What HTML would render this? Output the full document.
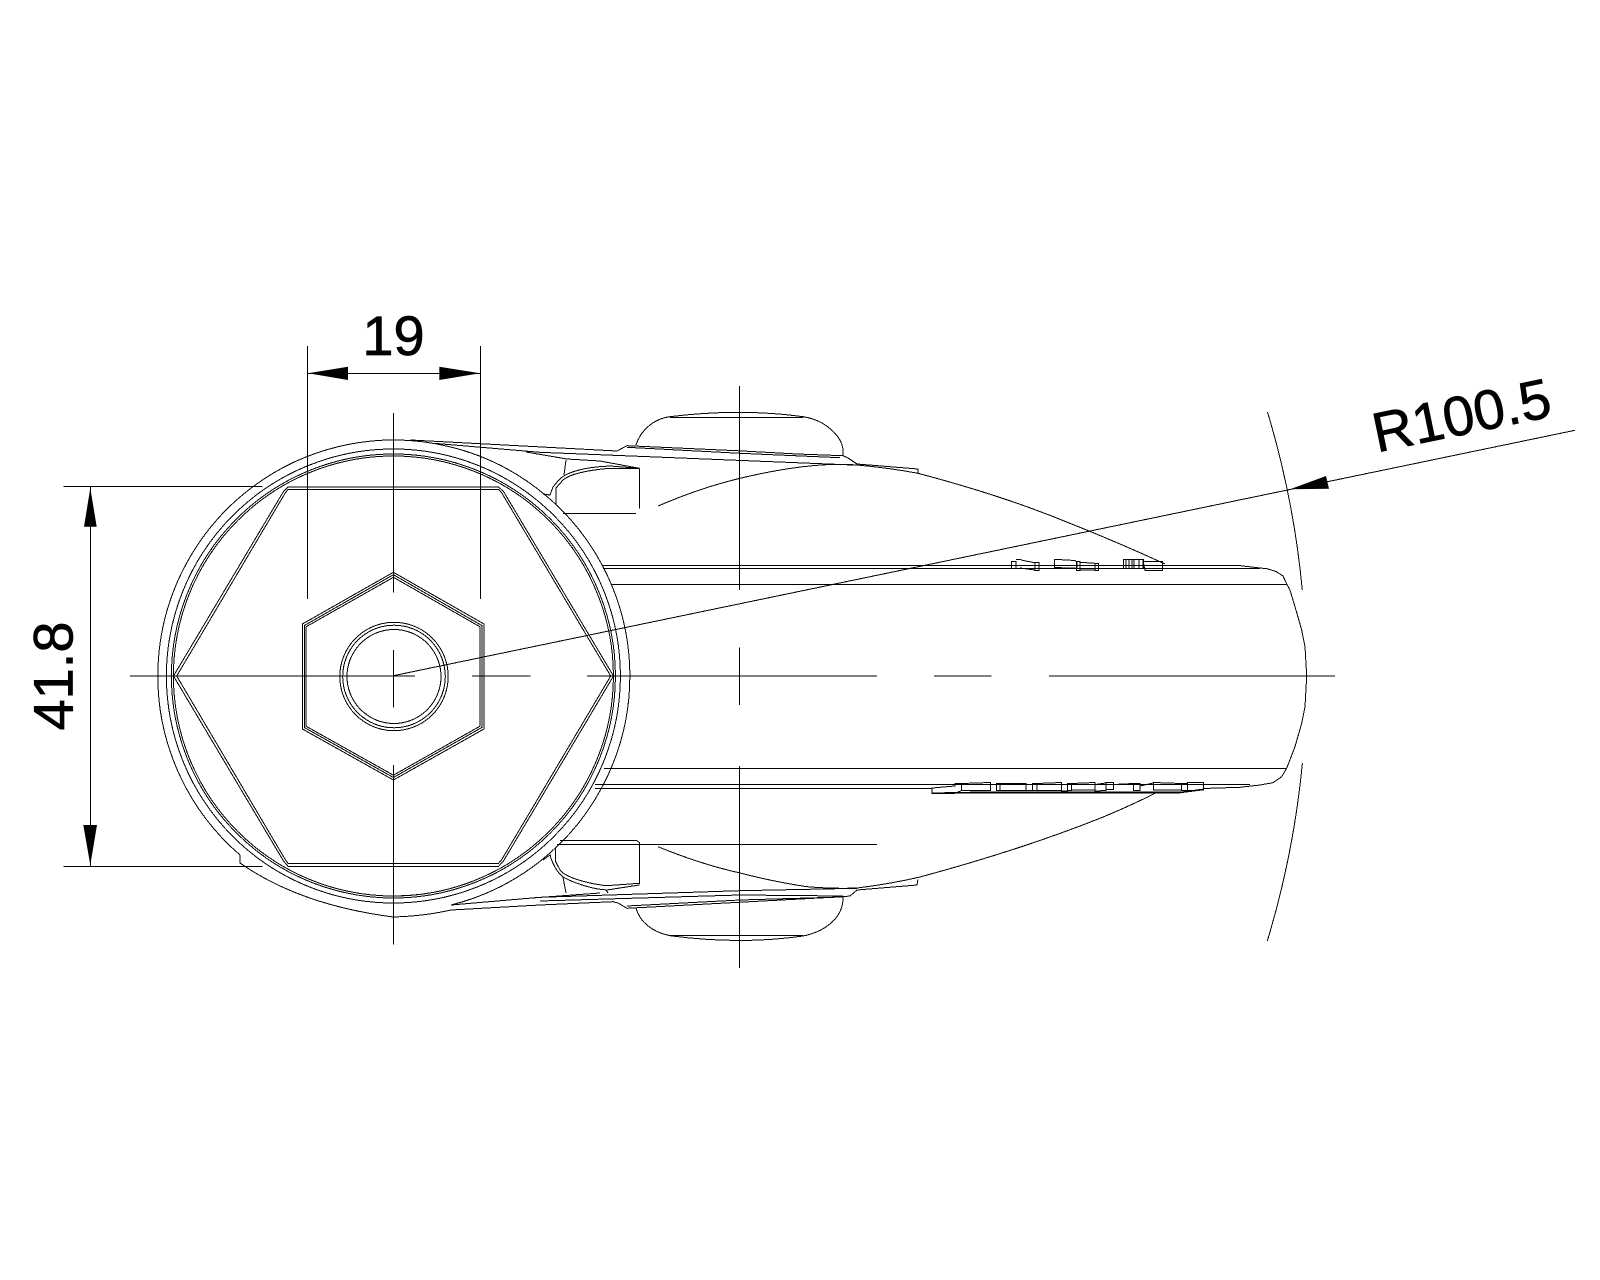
<!DOCTYPE html>
<html>
<head>
<meta charset="utf-8">
<style>
html,body{margin:0;padding:0;background:#fff;width:1600px;height:1280px;overflow:hidden}
svg{display:block}
text{font-family:"Liberation Sans",Arial,sans-serif;font-size:56px;fill:#000;stroke:#000;stroke-width:.7px}
.l{fill:none;stroke:#000;stroke-width:1;shape-rendering:crispEdges}
.m{fill:none;stroke:#000;stroke-width:1;shape-rendering:crispEdges}
</style>
</head>
<body>
<svg xmlns="http://www.w3.org/2000/svg" width="1600" height="1280" viewBox="0 0 1600 1280">
<rect width="1600" height="1280" fill="#fff"/>

<!-- centre lines -->
<g class="m">
<path d="M130 676H415M472 676H530.5M587 676H877M934 676H991.7M1049 676H1335"/>
<path d="M393.4 413V592.7M393.4 650V707.7M393.4 765V944.5"/>
<path d="M739.3 386V590M739.3 647.5V705M739.3 766V968"/>
</g>

<!-- circles -->
<g class="l">
<path d="M240 855A236 236 0 1 1 451 905"/>
<path d="M240 855V863Q300 905 393.4 917Q425 916 451 910"/>
<circle cx="393.4" cy="676" r="227"/>
<circle cx="393.4" cy="676" r="222"/>
<circle cx="393.4" cy="676" r="220"/>
<!-- large hexagon -->
<path d="M173.5 676L283.5 491.5L288 487H498.5L503.5 491.5L613.5 676L503.5 861L498.5 866.3H288L283.5 861Z"/>
<path d="M176.7 676L285.5 492.5L288 489.5H498.5L501.5 492.5L610.7 676L501.5 860L498.5 863.3H288L285.5 860Z"/>
<!-- small hexagon -->
<path d="M393.4 572.3L484 624V729L393.4 780L302.4 729V624Z"/>
<path d="M393.4 574.7L481.8 625.5V727.5L393.4 777.5L304.4 727.5V625.5Z"/>
<path d="M393.4 577.3L480 626.8V726.2L393.4 775.2L306 726.2V626.8Z"/>
<circle cx="394" cy="676.5" r="54.2"/>
<circle cx="394" cy="676.5" r="51.3"/>
<circle cx="394" cy="676.5" r="47"/>
</g>

<!-- body -->
<g class="l">
<path d="M602 565.3H1237L1260 568L1267 568.7L1276 571.5L1283 576L1286.7 584L1290 590L1295 606.7L1301.7 630L1305 646.7L1306.7 676L1305 706.7L1301.7 723.3L1295 746.7L1286.7 768.3L1281.7 776.7L1273 782.7L1260 785L1240 787.3"/>
<path d="M603 568.3H1260"/>
<path d="M611.7 584.3H1287"/>
<path d="M604 768.3H1287"/>
<path d="M595 784.3H1250"/>
<path d="M595 788.3H932"/>
<path d="M1203 788.5L1240 787.3"/>
</g>

<!-- upper wheel and lines -->
<g class="l">
<path d="M636 445C640 432 652 419 670 416.7Q740 408 803 416.7C825 420 842 436 843 450V455.7"/>
<path d="M670 417.3H803"/>
<path d="M410.6 440L617 451L627 445.7L737 450.7L797 454L843 455.7L848 458L857 464L918 469V473"/>
<path d="M627 447.3L740 453.3L840 457.7"/>
<path d="M434 443.3L540 452.3L853 465"/>
<path d="M526 452L567 459L600 461L627 466L639.5 468.3"/>
<path d="M566 460L564 475"/>
<path d="M639.5 468.3V508.5"/>
<path d="M639.5 468.3L610 466C585 467 565 472 558 481L553 487L550 495L543 494"/>
<path d="M639.5 468.3H610C588 470 570 474 563 480L556 488V504"/>
<path d="M563 513.5H636"/>
<path d="M658 506Q700 488 740 478.3Q775 470 803 466.7Q835 463 857 465Q890 468 918 473.3Q1000 495 1061.7 520Q1115 541 1165 564"/>
</g>

<!-- lower wheel and lines -->
<g class="l">
<path d="M636 908.3C640 922 652 932 670 935.7Q740 945 803 936C825 931.7 842 918 843 900V896.7"/>
<path d="M670 935.7H803"/>
<path d="M451 905L540 897.3L740 890.7L857 888.3"/>
<path d="M451 910L540 905L613 901.7L618 903L627 908.3L843 896.7L850 896L857 890L917 885L918 879.3"/>
<path d="M540 901L740 895L843 896"/>
<path d="M627 906L740 900L843 897"/>
<path d="M532 898L600 893"/>
<path d="M560 840.7H637L639.3 842.5V883.3L606.7 885.7C590 884 566 878 560 870L555.7 861.7V848.3"/>
<path d="M639.3 885L607 890C590 889 572 882 563 877C556 871 552 862 550 855L543 860"/>
<path d="M563 877L566 893"/>
<path d="M606 890L608 893"/>
<path d="M557 844.3H877"/>
<path d="M658 846.7Q700 864 740 873Q775 882 807 886.7Q835 889 857 888Q890 884 920 877Q1020 850 1100 818.3Q1130 806 1157 792.3"/>
</g>

<!-- top rail details -->
<g class="l">
<path d="M1011.7 561.7H1016V568.3H1011.7Z"/>
<path d="M1016 559.3H1020L1023 560.5L1035 562.7V570L1020 568"/>
<path d="M1035 562.7H1039V570.3H1035Z"/>
<path d="M1054.3 559.3L1075 560.5L1077 562V568.3L1054.3 567.5Z"/>
<path d="M1076.7 561.7H1080V570.3H1076.7Z"/>
<path d="M1080 562.3L1095 563.3V570L1080 570Z"/>
<path d="M1095 563.3H1098.7V570.3H1095Z"/>
<path d="M1123.3 559.3H1143.3V568.3H1123.3Z"/>
<path d="M1126 559.5V568M1129 559.5V568M1132 559.5V568M1134 559.5V568M1139 559.5V568M1143 559.5V568"/>
<path d="M1143.3 561.7H1162.7V570.3H1145Z"/>
</g>

<!-- bottom rail details -->
<g class="l">
<path d="M955 786L932 788V793.3H955L961.7 790.5V783.5H955Z"/>
<path d="M961.7 783.5L990.7 782.5V790.5H961.7Z"/>
<path d="M996.7 783.5H1000V790.5H996.7Z"/>
<path d="M1000 783.5H1026V790.5H1000Z"/>
<path d="M1026 784.5H1032.7V790.5H1026Z"/>
<path d="M1032.7 783.5H1037V790.5H1032.7Z"/>
<path d="M1037 783.5L1061.7 782.5V790.5H1037Z"/>
<path d="M1061.7 784.5H1067.7V791H1061.7Z"/>
<path d="M1067.7 783.5H1071.7V790.5H1067.7Z"/>
<path d="M1071.7 783.5L1095 782.5V790H1071.7Z"/>
<path d="M1095 784.5L1106 783V790.5L1095 791Z"/>
<path d="M1106 782.5H1113.3V789.5H1106Z"/>
<path d="M1113.3 784.5L1133.3 783.5"/>
<path d="M1133.3 783.5H1140V790.5H1133.3Z"/>
<path d="M1140 786L1153.3 783"/>
<path d="M1153.3 782.5L1181.7 783.5V790L1153.3 790Z"/>
<path d="M1181.7 783.5H1187.3V790.5H1181.7Z"/>
<path d="M1187.3 782.5H1203.3V790L1187.3 790.5Z"/>
</g>
<path d="M932 793.3L973 792.5H1180L1203 789.5" fill="none" stroke="#000" stroke-width="1.6" shape-rendering="crispEdges"/>

<!-- big arc -->
<g class="l">
<path d="M1267.5 412A913 913 0 0 1 1302.3 590"/>
<path d="M1302.4 763A913 913 0 0 1 1267.3 941"/>
</g>

<!-- dimensions -->
<g class="m">
<path d="M307.5 346V599M480.5 346V599M307.5 373.3H480.5"/>
<path d="M63.3 486.3H262.7M63.3 866.3H262.7M90.3 486.3V866.3"/>
</g>
<path d="M392 676L1575 430.3" fill="none" stroke="#000" stroke-width="1" shape-rendering="crispEdges"/>
<polygon points="308,373.3 348,366.7 348,380" fill="#000"/>
<polygon points="480,373.3 439.3,366.7 439.3,380" fill="#000"/>
<polygon points="90.3,488 84,526.7 96.7,526.7" fill="#000"/>
<polygon points="90.3,865 83.3,825 97,825" fill="#000"/>
<polygon points="1290,489.3 1326,476 1329,488.7" fill="#000"/>

<text x="393.5" y="355" text-anchor="middle">19</text>
<text transform="translate(72.3 676) rotate(-90)" text-anchor="middle">41.8</text>
<text transform="translate(1377 452.5) rotate(-11.7)">R100.5</text>
</svg>
</body>
</html>
